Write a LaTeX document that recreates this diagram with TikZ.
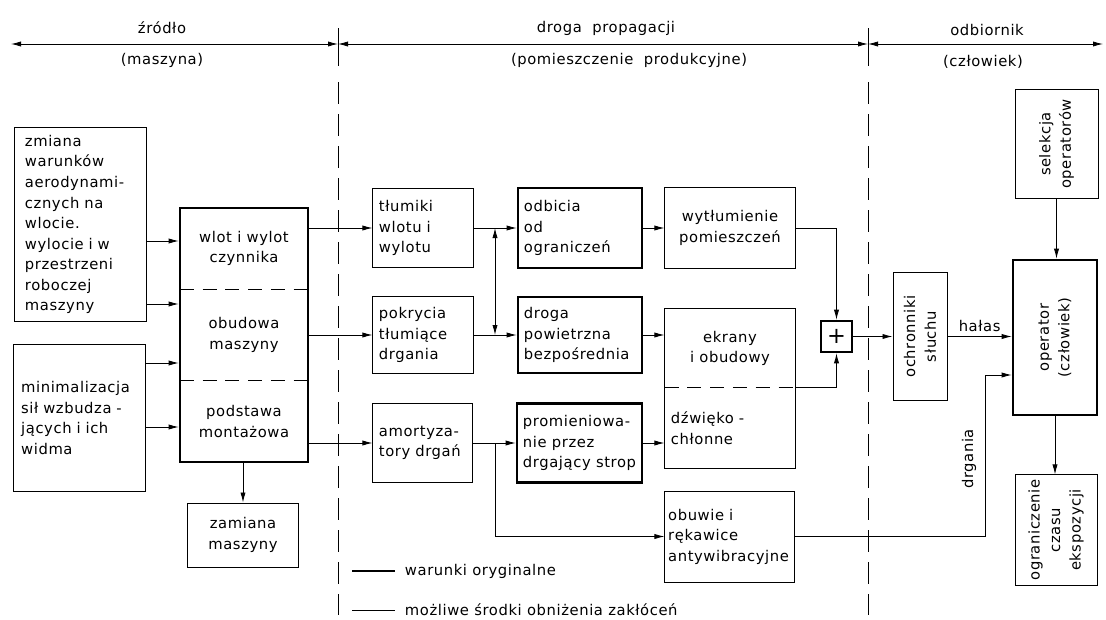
\documentclass[tikz,border=0pt]{standalone}
\usepackage{fontspec}
\setmainfont{DejaVu Sans}[LetterSpace=4]
\usepackage{tikz}
\usetikzlibrary{arrows.meta,positioning,calc}
\tikzstyle{box} = [draw, line width=0.7pt, inner xsep=0.15cm, inner ysep=0.1cm, align=left]
\tikzstyle{orig} = [box, line width=1.8pt]
\tikzstyle{part} = [inner sep=0pt, align=center]
\tikzstyle{conn} = [line width=0.6pt, -{Latex[length=2.5mm,width=1.3mm]}]
\tikzstyle{biconn} = [line width=0.6pt, {Latex[length=2.5mm,width=1.3mm]}-{Latex[length=2.5mm,width=1.3mm]}]
\tikzstyle{sectionline} = [line width=0.7pt, dash pattern=on 0.35cm off 0.22cm]
\tikzstyle{divider} = [line width=0.6pt, dash pattern=on 0.55cm off 0.25cm]

\begin{document}
\begin{tikzpicture}[x=0.025cm, y=-0.025cm, font=\fontsize{10.5}{14.6}\selectfont]
    \useasboundingbox (0,0) rectangle (1106,619);
    % header
    \node (srcTitle) at (162,28) {źródło};
    \node (srcSub) at (162,60) {(maszyna)};
    \node (pathTitle) at (606,28) {droga~ propagacji};
    \node (pathSub) at (629,60) {(pomieszczenie~ produkcyjne)};
    \node (rcvTitle) at (987,30) {odbiornik};
    \node (rcvSub) at (983,62) {(człowiek)};
    \coordinate (hL) at (11,44);
    \coordinate (hA) at (338,44);
    \coordinate (hB) at (868,44);
    \coordinate (hR) at (1103,44);
    \draw[biconn] (hL) -- (hA);
    \draw[biconn] (hA) -- (hB);
    \draw[biconn] (hB) -- (hR);
    \draw[line width=0.6pt] (338,28) -- (338,66);
    \draw[line width=0.6pt] (868,28) -- (868,66);
    \draw[divider] (338,82) -- (338,615);
    \draw[divider] (868,82) -- (868,615);
    % source
    \node[box, inner xsep=0.25cm, text width=2.775cm, minimum height=4.825cm] (a1) at (80.5,224.5) {zmiana\\warunków\\aerodynami-\\cznych na\\wlocie.\\wylocie i w\\przestrzeni\\roboczej\\maszyny};
    \node[box, inner xsep=0.18cm, text width=2.915cm, minimum height=3.65cm] (a2) at (79.5,418) {minimalizacja\\sił wzbudza -\\jących i ich\\widma};
    \node[orig, minimum width=3.2cm, minimum height=6.35cm] (src) at (244,335) {};
    \node[part, minimum width=3.2cm, minimum height=2.025cm] (inlet) at (244,248.5) {wlot i wylot\\czynnika};
    \node[part, minimum width=3.2cm, minimum height=2.3cm] (housing) at (244,335) {obudowa\\maszyny};
    \node[part, minimum width=3.2cm, minimum height=2.025cm] (base) at (244,421.5) {podstawa\\montażowa};
    \draw[sectionline] (inlet.south west) -- (inlet.south east);
    \draw[sectionline] (base.north west) -- (base.north east);
    \node[box, align=center, minimum width=2.75cm, minimum height=1.6cm] (swap) at (243,535) {zamiana\\maszyny};
    % propagation path
    \node[box, text width=2.2cm, minimum height=1.975cm] (m1) at (423,228) {tłumiki\\wlotu i\\wylotu};
    \node[box, text width=2.2cm, minimum height=1.925cm] (m2) at (423,335) {pokrycia\\tłumiące\\drgania};
    \node[box, text width=2.175cm, minimum height=1.975cm] (m3) at (422.5,443) {amortyza-\\tory drgań};
    \node[orig, text width=2.8cm, minimum height=2cm] (m4) at (580,228) {odbicia\\od\\ograniczeń};
    \node[orig, text width=2.8cm, minimum height=1.9cm] (m5) at (580,335) {droga\\powietrzna\\bezpośrednia};
    \node[orig, minimum width=3.125cm, minimum height=1.975cm, inner xsep=0.08cm] (m6) at (579.5,443) {promieniowa-\\nie przez\\drgający strop};
    \node[box, align=center, minimum width=3.25cm, minimum height=2.025cm] (m7) at (730,228) {wytłumienie\\pomieszczeń};
    \node[box, minimum width=3.25cm, minimum height=3.975cm] (m8) at (730,388.5) {};
    \node[part, minimum width=3.25cm, minimum height=1.975cm] (m8top) at (730,348.5) {ekrany\\i obudowy};
    \node[part, align=left, text width=2.95cm, minimum height=2cm] (m8bot) at (730,428) {dźwięko -\\chłonne};
    \draw[sectionline] (m8.west |- m8bot.north) -- (m8.east |- m8bot.north);
    \node[box, inner xsep=0.08cm, text width=3.065cm, minimum height=2.275cm] (m9) at (729.5,536.5) {obuwie i\\rękawice\\antywibracyjne};
    \node[orig, minimum size=0.775cm, inner sep=0pt, font=\fontsize{16}{16}\selectfont] (sum) at (836.5,336.5) {+};
    % receiver
    \node[box, minimum width=1.35cm, minimum height=3.175cm] (ear) at (920,336.5) {};
    \node[rotate=90, align=center] (earText) at (ear) {ochronniki\\słuchu};
    \node[orig, minimum width=2.1cm, minimum height=3.875cm] (op) at (1055,337.5) {};
    \node[rotate=90, align=center] (opText) at (op) {operator\\(człowiek)};
    \node[box, minimum width=2.075cm, minimum height=2.7cm] (sel) at (1056.5,144) {};
    \node[rotate=90, align=center] (selText) at (sel) {selekcja\\operatorów};
    \node[box, minimum width=2.05cm, minimum height=2.75cm] (limit) at (1056,530) {};
    \node[rotate=90, align=center] (limitText) at (limit) {ograniczenie\\czasu\\ekspozycji};
    % connectors
    \coordinate (inA) at (0,241);
    \coordinate (inB) at (0,304);
    \coordinate (inC) at (0,363);
    \coordinate (inD) at (0,427);
    \draw[conn] (a1.east |- inA) -- (src.west |- inA);
    \draw[conn] (a1.east |- inB) -- (src.west |- inB);
    \draw[conn] (a2.east |- inC) -- (src.west |- inC);
    \draw[conn] (a2.east |- inD) -- (src.west |- inD);
    \coordinate (rowA) at (0,228);
    \coordinate (rowB) at (0,335);
    \coordinate (rowC) at (0,443);
    \draw[conn] (src.east |- rowA) -- (m1.west |- rowA);
    \draw[conn] (src.east |- rowB) -- (m2.west |- rowB);
    \draw[conn] (src.east |- rowC) -- (m3.west |- rowC);
    \draw[conn] (src.south -| swap.north) -- (swap.north);
    \draw[conn] (m1.east) -- (m4.west);
    \draw[conn] (m2.east) -- (m5.west);
    \draw[conn] (m3.east) -- (m6.west);
    \coordinate (jA) at (495,228);
    \coordinate (jB) at (495,335);
    \coordinate (jC) at (495,443);
    \draw[biconn] (jA) -- (jB);
    \draw[conn] (jC) |- (m9.west);
    \draw[conn] (m4.east) -- (m7.west);
    \draw[conn] (m5.east) -- (m8.west |- m5.east);
    \draw[conn] (m6.east) -- (m8.west |- m6.east);
    \draw[conn] (m7.east) -| (sum.north);
    \draw[conn] (m8.east |- m8bot.north) -| (sum.south);
    \draw[conn] (sum.east) -- (ear.west);
    \draw[conn] (ear.east) -- (op.west |- ear.east) node[midway, above] (noise) {hałas};
    \coordinate (vibTurn) at (985,375);
    \draw[conn] (m9.east) -| (vibTurn) -- (op.west |- vibTurn);
    \node[rotate=90] (vibLabel) at (969,459) {drgania};
    \draw[conn] (sel.south) -- (op.north -| sel.south);
    \draw[conn] (op.south) -- (limit.north -| op.south);
    % legend
    \coordinate (legA) at (352,571);
    \coordinate (legB) at (352,610);
    \draw[line width=1.8pt] (legA) -- ++(43,0);
    \draw[line width=0.7pt] (legB) -- ++(43,0);
    \node[anchor=west] (legOrig) at (400,571) {warunki oryginalne};
    \node[anchor=west] (legMeans) at (400,610) {możliwe środki obniżenia zakłóceń};
\end{tikzpicture}
\end{document}
